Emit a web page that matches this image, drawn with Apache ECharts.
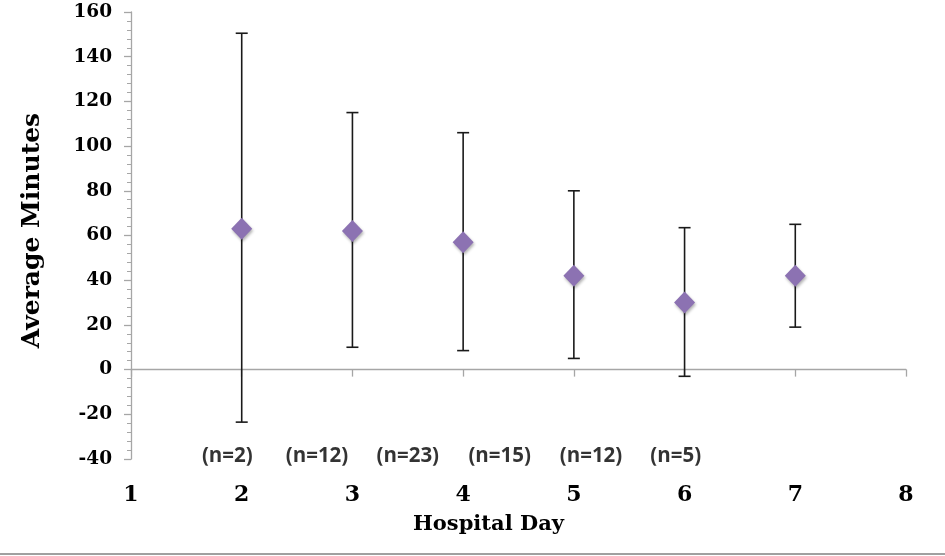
<!DOCTYPE html>
<html>
<head>
<meta charset="utf-8">
<script src="https://cdn.jsdelivr.net/npm/echarts@6/dist/echarts.min.js"></script>
<style>
html,body{margin:0;padding:0;background:#fff;}
#chart{width:945px;height:556px;}
</style>
</head>
<body>
<div id="chart"></div>
<script>
// Data
var days = [2, 3, 4, 5, 6, 7];
var meanMinutes = [63, 62, 57, 42, 30, 42];
var upperMinutes = [150.5, 115, 106, 80, 63.5, 65];
var lowerMinutes = [-23.5, 10, 8.5, 5, -3, 19];
var nLabels = ['(n=2)', '(n=12)', '(n=23)', '(n=15)', '(n=12)', '(n=5)'];
var nLabelX = [1.87, 2.68, 3.5, 4.33, 5.155, 5.92];
var nLabelY = -38.7;

var serif = '"DejaVu Serif", serif';
var axisGray = '#A6A6A6';

var meanData = days.map(function (d, i) { return [d, meanMinutes[i]]; });
var errData = days.map(function (d, i) { return [d, lowerMinutes[i], upperMinutes[i]]; });
var nData = nLabels.map(function (t, i) { return { value: [nLabelX[i], nLabelY], name: t }; });

var chart = echarts.init(document.getElementById('chart'));
chart.setOption({
  animation: false,
  backgroundColor: '#fff',
  grid: { left: 131, right: 39, top: 12, bottom: 97, containLabel: false },
  xAxis: [
    {
      type: 'value', min: 1, max: 8, interval: 1,
      axisLine: { show: true, onZero: true, lineStyle: { color: axisGray, width: 1.3 } },
      axisTick: { show: true, length: 7, lineStyle: { color: axisGray, width: 1.3 } },
      axisLabel: { show: false },
      splitLine: { show: false }
    },
    {
      type: 'value', min: 1, max: 8, interval: 1, position: 'bottom',
      axisLine: { show: false, onZero: false },
      axisTick: { show: false },
      axisLabel: { show: true, margin: 25, color: '#000', fontFamily: serif, fontWeight: 'bold', fontSize: 22 },
      splitLine: { show: false }
    }
  ],
  yAxis: {
    type: 'value', min: -40, max: 160, interval: 20,
    name: 'Average Minutes', nameLocation: 'middle', nameGap: 86,
    nameTextStyle: { color: '#000', fontFamily: serif, fontWeight: 'bold', fontSize: 25, padding: [0, 0, 0, 10] },
    axisLine: { show: true, lineStyle: { color: axisGray, width: 1.3 } },
    axisTick: { show: true, length: 7, lineStyle: { color: axisGray, width: 1.3 } },
    minorTick: { show: true, splitNumber: 5, length: 4, lineStyle: { color: axisGray, width: 1 } },
    axisLabel: { margin: 19, color: '#000', fontFamily: serif, fontWeight: 'bold', fontSize: 18.5, padding: [3, 0, 0, 0] },
    splitLine: { show: false }
  },
  series: [
    {
      type: 'custom',
      xAxisIndex: 0,
      data: errData,
      z: 2,
      renderItem: function (params, api) {
        var x = api.value(0);
        var pLo = api.coord([x, api.value(1)]);
        var pHi = api.coord([x, api.value(2)]);
        var w = 6;
        var st = { stroke: '#1a1a1a', lineWidth: 1.6 };
        return {
          type: 'group',
          children: [
            { type: 'line', shape: { x1: pHi[0], y1: pHi[1], x2: pLo[0], y2: pLo[1] }, style: st },
            { type: 'line', shape: { x1: pHi[0] - w, y1: pHi[1], x2: pHi[0] + w, y2: pHi[1] }, style: st },
            { type: 'line', shape: { x1: pLo[0] - w, y1: pLo[1], x2: pLo[0] + w, y2: pLo[1] }, style: st }
          ]
        };
      }
    },
    {
      type: 'scatter',
      xAxisIndex: 0,
      data: meanData,
      symbol: 'diamond',
      symbolSize: [21, 22],
      z: 3,
      itemStyle: {
        color: '#8C72B2', opacity: 1,
        shadowBlur: 3, shadowColor: 'rgba(0,0,0,0.3)', shadowOffsetX: 1, shadowOffsetY: 2
      }
    },
    {
      type: 'scatter',
      xAxisIndex: 0,
      data: nData,
      symbolSize: 0,
      itemStyle: { color: 'transparent' },
      label: {
        show: true, position: 'inside',
        formatter: function (p) { return p.name; },
        color: '#000', fontFamily: '"Open Sans", sans-serif', fontWeight: 'bold', fontSize: 20.5
      }
    }
  ],
  graphic: [
    {
      type: 'text', left: 413, top: 514,
      style: { text: 'Hospital Day', fill: '#000', font: 'bold 21px "DejaVu Serif", serif' }
    },
    {
      type: 'line', shape: { x1: 0, y1: 554, x2: 945, y2: 554 },
      style: { stroke: '#A0A0A0', lineWidth: 2 }
    }
  ]
});
</script>
</body>
</html>
